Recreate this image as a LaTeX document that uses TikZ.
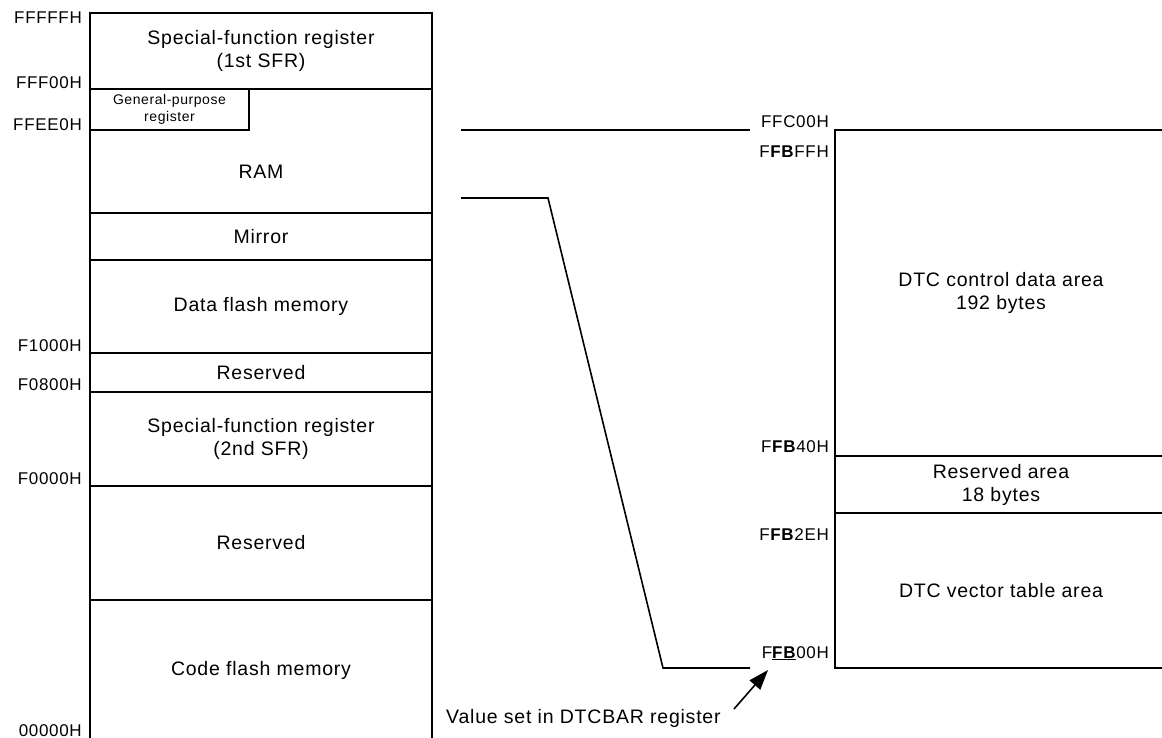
\documentclass[tikz,border=0pt]{standalone}
\usepackage{fontspec}
\setmainfont[LetterSpace=4]{Liberation Sans}
\usetikzlibrary{arrows.meta, positioning, calc}

\begin{document}
\begin{tikzpicture}[
    x=1pt, y=-1pt,
    region/.style={draw, line width=1.5pt, inner sep=0pt, outer sep=0pt, align=center, font=\fontsize{19.5}{23}\selectfont},
    leftreg/.style={region, minimum width=342pt},
    rightreg/.style={region, minimum width=332pt},
    addr/.style={anchor=base east, inner sep=0pt, font=\fontsize{17}{18}\selectfont},
    link/.style={line width=1.6pt},
    >={Triangle[width=14pt, length=20pt]},
]
\useasboundingbox (0,0) rectangle (1162,738);
\clip (0,0) rectangle (1162,738);

% memory space
\node[leftreg, minimum height=76pt, anchor=north west] (sfr1) at (90,13) {Special-function register\\(1st SFR)};
\node[leftreg, minimum height=124pt, below=0pt of sfr1] (ram) {};
\node[region, minimum width=159pt, minimum height=41pt, anchor=north west, font=\fontsize{14}{17}\selectfont] (gpr) at (ram.north west) {General-purpose\\register};
\node[font=\fontsize{19.5}{23}\selectfont] (ramtxt) at ($(ram.south)!0.5!(ram.center |- gpr.south)$) {RAM};
\node[leftreg, minimum height=47pt, below=0pt of ram] (mirror) {Mirror};
\node[leftreg, minimum height=93pt, below=0pt of mirror] (dflash) {Data flash memory};
\node[leftreg, minimum height=39pt, below=0pt of dflash] (rsv1) {Reserved};
\node[leftreg, minimum height=94pt, below=0pt of rsv1] (sfr2) {Special-function register\\(2nd SFR)};
\node[leftreg, minimum height=114pt, below=0pt of sfr2] (rsv2) {Reserved};
\node[leftreg, minimum height=140pt, below=0pt of rsv2] (cflash) {Code flash memory};

% addresses, left
\node[addr] (aFFFFF) at (82,24) {FFFFFH};
\node[addr] (aFFF00) at (82,89) {FFF00H};
\node[addr] (aFFEE0) at (82,131) {FFEE0H};
\node[addr] (aF1000) at (82,351) {F1000H};
\node[addr] (aF0800) at (82,390) {F0800H};
\node[addr] (aF0000) at (82,484) {F0000H};
\node[addr] (a00000) at (82,736) {00000H};

% DTC area
\node[rightreg, minimum height=326pt, anchor=north west] (dtcdata) at (835,130) {DTC control data area\\192 bytes};
\node[rightreg, minimum height=57pt, below=0pt of dtcdata] (rsvarea) {Reserved area\\18 bytes};
\node[rightreg, minimum height=155pt, below=0pt of rsvarea] (vect) {DTC vector table area};

% addresses, right
\node[addr] (aFFC00) at (829,128) {FFC00H};
\node[addr] (aFFBFF) at (829,158) {F\textbf{FB}FFH};
\node[addr] (aFFB40) at (829,452) {F\textbf{FB}40H};
\node[addr] (aFFB2E) at (829,540) {F\textbf{FB}2EH};
\node[addr] (aFFB00) at (829,658) {F\underline{\textbf{FB}}00H};

\node[anchor=base west, inner sep=0pt, font=\fontsize{19.5}{23}\selectfont] (dtcbar) at (446,723) {Value set in DTCBAR register};

% connectors
\coordinate (topA) at (461,130);
\coordinate (topB) at (750,130);
\coordinate (botA) at (461,198);
\coordinate (botB) at (750,668);
\coordinate (tip) at (768,670);
\draw[link] (topA) -- (topB);
\draw[link] (botA) -- (548,198) -- (663,668) -- (botB);
\draw[link, ->] (734,709) -- (tip);
\end{tikzpicture}
\end{document}
